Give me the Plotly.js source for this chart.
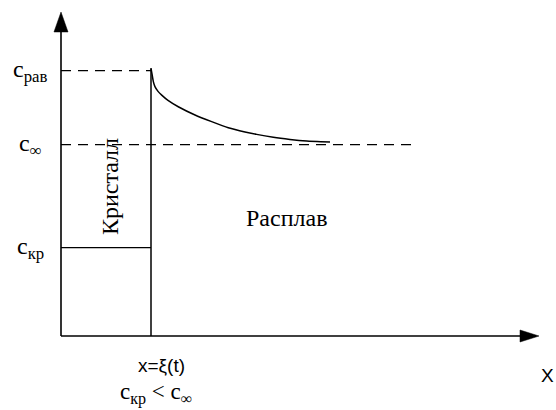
<!DOCTYPE html>
<html>
<head>
<meta charset="utf-8">
<script src="https://cdn.plot.ly/plotly-3.0.1.min.js"></script>
<style>html,body{margin:0;padding:0;background:#fff;}#chart{width:556px;height:410px;}</style>
</head>
<body>
<div id="chart"></div>
<script>
// Concentration levels (relative units, c_рав = 1)
const cRav = 1.0;
const cInf = 0.721;
const cKr = 0.333;
// Interface position x = ξ(t)
const xi = 1.0;
// Concentration profile in the melt
const curveX = [1.000, 1.011, 1.026, 1.044, 1.078, 1.119, 1.189, 1.303, 1.489, 1.674, 1.859, 2.044, 2.174, 2.359, 2.544, 2.730, 2.989];
const curveC = [1.009, 0.988, 0.959, 0.940, 0.922, 0.908, 0.888, 0.864, 0.833, 0.808, 0.785, 0.769, 0.760, 0.749, 0.741, 0.735, 0.731];
// Extents
const cInfLineEnd = 3.93;
const xAxisEnd = 5.311;
const yAxisEnd = 1.221;
// Labels
const levelLabels = ['c<sub>рав</sub>', 'c<sub>∞</sub>', 'c<sub>кр</sub>'];
const levelValues = [cRav, cInf, cKr];

const black = '#000';
const serif = "'Liberation Serif', 'Times New Roman', serif";
const sans = "'Liberation Sans', Arial, sans-serif";
const dash = '10px,7px';

const traces = [
  {x: [0, 0], y: [0, 1.146], mode: 'lines', line: {color: black, width: 1.6}},
  {x: [0, 5.1], y: [0, 0], mode: 'lines', line: {color: black, width: 1.6}},
  {x: [0, xi], y: [cRav, cRav], mode: 'lines', line: {color: black, width: 1.3, dash: dash}},
  {x: [0, cInfLineEnd], y: [cInf, cInf], mode: 'lines', line: {color: black, width: 1.3, dash: dash}},
  {x: [0, xi], y: [cKr, cKr], mode: 'lines', line: {color: black, width: 1.3}},
  {x: [xi, xi], y: [0, curveC[0]], mode: 'lines', line: {color: black, width: 1.5}},
  {x: curveX, y: curveC, mode: 'lines', line: {color: black, width: 1.5, shape: 'spline', smoothing: 0.4}}
];

const annotations = levelLabels.map((t, i) => ({
  x: -0.344, y: levelValues[i], xref: 'x', yref: 'y', text: t, showarrow: false,
  xanchor: 'center', yanchor: 'middle', font: {family: serif, size: 24, color: black}
}));
annotations.push(
  {x: 0.544, y: 0.565, text: 'Кристалл', textangle: -90, showarrow: false, xanchor: 'center', yanchor: 'middle', font: {family: serif, size: 24, color: black}},
  {x: 2.5, y: 0.445, text: 'Расплав', showarrow: false, xanchor: 'center', yanchor: 'middle', font: {family: serif, size: 24, color: black}},
  {x: 1.122, y: -0.113, text: 'x=ξ(t)', showarrow: false, xanchor: 'center', yanchor: 'middle', font: {family: sans, size: 19, color: black}},
  {x: 1.056, y: -0.218, text: 'c<sub>кр</sub> &lt; c<sub>∞</sub>', showarrow: false, xanchor: 'center', yanchor: 'middle', font: {family: serif, size: 23, color: black}},
  {x: 5.4, y: -0.147, text: 'X', showarrow: false, xanchor: 'center', yanchor: 'middle', font: {family: sans, size: 19, color: black}}
);

const shapes = [
  {type: 'path', xref: 'x', yref: 'y', path: `M -0.078 1.146 L 0 ${yAxisEnd} L 0.078 1.146 Z`, fillcolor: black, line: {color: black, width: 0.5}},
  {type: 'path', xref: 'x', yref: 'y', path: `M 5.1 -0.0226 L ${xAxisEnd} 0 L 5.1 0.0226 Z`, fillcolor: black, line: {color: black, width: 0.5}}
];

const layout = {
  width: 556, height: 410,
  margin: {l: 0, r: 0, t: 0, b: 0},
  paper_bgcolor: '#fff', plot_bgcolor: '#fff',
  showlegend: false,
  xaxis: {range: [-0.6778, 5.5], visible: false, fixedrange: true},
  yaxis: {range: [-0.2789, 1.2665], visible: false, fixedrange: true},
  annotations: annotations,
  shapes: shapes
};

Plotly.newPlot('chart', traces, layout, {staticPlot: true, displayModeBar: false});
</script>
</body>
</html>
